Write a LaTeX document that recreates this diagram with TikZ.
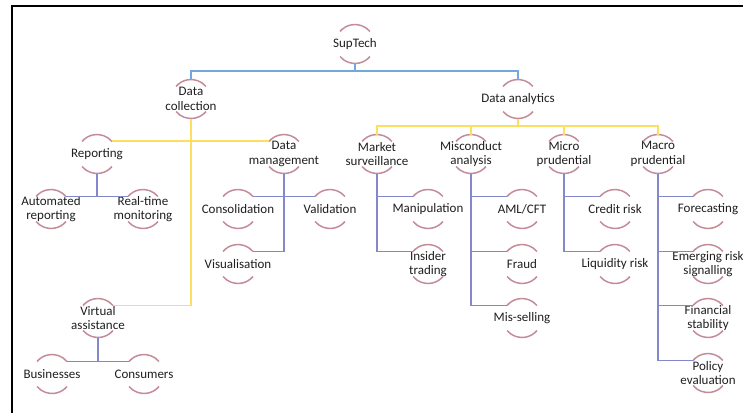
\documentclass[tikz,border=0pt]{standalone}
\usepackage{fontspec}
\setmainfont{Carlito}
\begin{document}
\begin{tikzpicture}[x=1pt,y=-1pt,
  lbl/.style={align=center,inner sep=0pt,text=black!88,font=\fontsize{13}{14.5}\selectfont},
  arcst/.style={draw=arcc,line width=1.5pt},
  bluec/.style={draw=bluecol,line width=1.8pt},
  yelc/.style={draw=yelcol,line width=1.8pt},
  purc/.style={draw=purcol,line width=1.8pt},
  frame/.style={draw=black,line width=2pt}]
\definecolor{arcc}{RGB}{196,140,152}
\definecolor{bluecol}{RGB}{115,168,222}
\definecolor{yelcol}{RGB}{252,222,96}
\definecolor{purcol}{RGB}{130,136,202}
\useasboundingbox[fill=white] (0,0) rectangle (743,413);
\draw[frame] (11.8,413) -- (11.8,5.8) -- (743,5.8);
% nodes
\node[lbl] (sup) at (355,44) {SupTech};
\node[lbl] (dc) at (191,99) {Data\\collection};
\node[lbl] (da) at (518,99) {Data analytics};
\node[lbl] (rep) at (97,154) {Reporting};
\node[lbl] (dm) at (284,154) {Data\\management};
\node[lbl] (ms) at (377,154) {Market\\surveillance};
\node[lbl] (mi) at (471,154) {Misconduct\\analysis};
\node[lbl] (mp) at (564,154) {Micro\\prudential};
\node[lbl] (ma) at (658,154) {Macro\\prudential};
\node[lbl] (ar) at (51,209) {Automated\\reporting};
\node[lbl] (rt) at (143,209) {Real-time\\monitoring};
\node[lbl] (con) at (238,209) {Consolidation};
\node[lbl] (val) at (330,209) {Validation};
\node[lbl] (vis) at (238,264) {Visualisation};
\node[lbl] (va) at (98,318) {Virtual\\assistance};
\node[lbl] (bus) at (52,374) {Businesses};
\node[lbl] (cons) at (144,374) {Consumers};
\node[lbl] (man) at (428,209) {Manipulation};
\node[lbl] (ins) at (428,264) {Insider\\trading};
\node[lbl] (aml) at (522,209) {AML/CFT};
\node[lbl] (fra) at (522,264) {Fraud};
\node[lbl] (mis) at (522,318) {Mis-selling};
\node[lbl] (cre) at (615,209) {Credit risk};
\node[lbl] (liq) at (615,264) {Liquidity risk};
\node[lbl] (fore) at (708,209) {Forecasting};
\node[lbl] (emr) at (708,264) {Emerging risk\\signalling};
\node[lbl] (fin) at (708,318) {Financial\\stability};
\node[lbl] (pol) at (708,373) {Policy\\evaluation};
% arcs and helper coordinates
\foreach \n in {sup,dc,da,rep,dm,ms,mi,mp,ma,ar,rt,con,val,vis,va,bus,cons,man,ins,aml,fra,mis,cre,liq,fore,emr,fin,pol}{
  \draw[arcst] ([shift={(40:19.5pt)}]\n.center) arc[start angle=40,end angle=140,radius=19.5pt];
  \draw[arcst] ([shift={(220:19.5pt)}]\n.center) arc[start angle=220,end angle=320,radius=19.5pt];
  \coordinate (\n-tr) at ([shift={(40:19.5pt)}]\n.center);
  \coordinate (\n-tl) at ([shift={(140:19.5pt)}]\n.center);
  \coordinate (\n-t) at ([yshift=19.5pt]\n.center);
  \coordinate (\n-b) at ([yshift=-19.5pt]\n.center);
}
% level 1 (blue)
\coordinate (busA) at (355,71);
\draw[bluec] (sup-b) -- (busA);
\draw[bluec] (dc-t) |- (busA) -| (da-t);
% data collection (yellow)
\coordinate (busC) at (191,141);
\draw[yelc] (dc-b) |- (va-tr);
\draw[yelc,line width=2pt] (rep-tr |- busC) -- (busC) -- (dm-tl |- busC);
% data analytics (yellow)
\coordinate (busB) at (518,126);
\draw[yelc] (da-b) -- (busB);
\draw[yelc] (ms-t) |- (busB) -| (ma-t);
\draw[yelc] (mi-t) -- (mi-t |- busB);
\draw[yelc] (mp-t) -- (mp-t |- busB);
% level 3 (purple)
\draw[purc] (rep-b) -- (rep-b |- ar-tr);
\draw[purc] (ar-tr) -- (rt-tl);
\draw[purc] (dm-b) -- (dm-b |- vis-tr) -- (vis-tr);
\draw[purc] (con-tr) -- (val-tl);
\draw[purc] (va-b) -- (va-b |- bus-tr);
\draw[purc] (bus-tr) -- (cons-tl);
\draw[purc] (ms-b) |- (ins-tl);
\draw[purc] (ms-b |- man-tl) -- (man-tl);
\draw[purc] (mi-b) |- (mis-tl);
\draw[purc] (mi-b |- aml-tl) -- (aml-tl);
\draw[purc] (mi-b |- fra-tl) -- (fra-tl);
\draw[purc] (mp-b) |- (liq-tl);
\draw[purc] (mp-b |- cre-tl) -- (cre-tl);
\draw[purc] (ma-b) |- (pol-tl);
\draw[purc] (ma-b |- fore-tl) -- (fore-tl);
\draw[purc] (ma-b |- emr-tl) -- (emr-tl);
\draw[purc] (ma-b |- fin-tl) -- (fin-tl);
\end{tikzpicture}
\end{document}
